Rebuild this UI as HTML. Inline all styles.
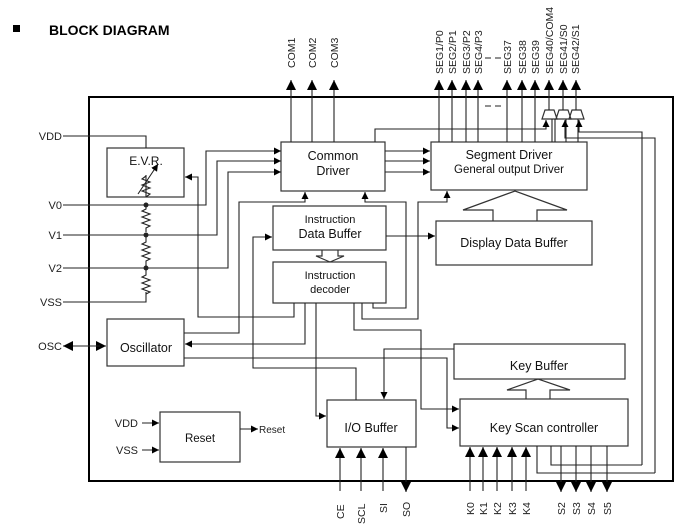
<!DOCTYPE html>
<html><head><meta charset="utf-8"><style>
html,body{margin:0;padding:0;background:#fff;}
svg{display:block;font-family:"Liberation Sans",Arial,sans-serif;}
</style></head><body>
<svg width="694" height="527" viewBox="0 0 694 527" xmlns="http://www.w3.org/2000/svg">
<defs>
<marker id="a" viewBox="0 0 10 10" refX="10" refY="5" markerWidth="7" markerHeight="7" markerUnits="userSpaceOnUse" orient="auto"><path d="M0,0L10,5L0,10z" fill="#000"/></marker>
<marker id="b" viewBox="0 0 10 10" refX="10" refY="5" markerWidth="10" markerHeight="10" markerUnits="userSpaceOnUse" orient="auto"><path d="M0,0L10,5L0,10z" fill="#000"/></marker>
</defs>
<rect x="13" y="25" width="7" height="7" fill="#000"/>
<text x="49" y="35" font-size="14" font-weight="bold">BLOCK DIAGRAM</text>

<g fill="none" stroke="#333" stroke-width="1.2">
<rect x="89" y="97" width="584" height="384" stroke="#000" stroke-width="2"/>
<rect x="107" y="148" width="77" height="49"/>
<rect x="281" y="142" width="104" height="49"/>
<rect x="431" y="142" width="156" height="48"/>
<rect x="273" y="206" width="113" height="44"/>
<rect x="273" y="262" width="113" height="41"/>
<rect x="436" y="221" width="156" height="44"/>
<rect x="107" y="319" width="77" height="47"/>
<rect x="454" y="344" width="171" height="35"/>
<rect x="460" y="399" width="168" height="47"/>
<rect x="327" y="400" width="89" height="47"/>
<rect x="160" y="412" width="80" height="50"/>
<path d="M322,250V256H316L330,262L344,256H338V250"/>
<path d="M493,221V210H463L515,191L567,210H537V221"/>
<path d="M526,399V390H507L538,379L570,390H550V399"/>
<path d="M545,110H554L557,119H542Z"/>
<path d="M559,110H568L571,119H556Z"/>
<path d="M572,110H581L584,119H569Z"/>
</g>

<g fill="none" stroke="#222" stroke-width="1.1">
<path d="M63,136H146V148"/>
<path d="M63,205H146M63,235H146M63,268H146M63,302H146V292"/>
<path d="M146,197V175"/>
<path d="M146,176l-4,3l8,3l-8,3l8,3l-8,3l8,3l-4,3"/>
<path d="M138,194L158,164" marker-end="url(#a)"/>
<path d="M146,205v4l-4,2l8,3l-8,3l8,3l-8,3l8,3l-4,2v4"/>
<path d="M146,235v7l-4,2l8,3l-8,3l8,3l-8,3l8,3l-4,2v7"/>
<path d="M146,268v7l-4,2l8,3l-8,3l8,3l-8,3l8,3l-4,2"/>
<path d="M146,205H206V151H281" marker-end="url(#a)"/>
<path d="M146,235H217V161H281" marker-end="url(#a)"/>
<path d="M146,268H228V172H281" marker-end="url(#a)"/>
<path d="M291,142V80" marker-end="url(#b)"/>
<path d="M312,142V80" marker-end="url(#b)"/>
<path d="M334,142V80" marker-end="url(#b)"/>
<path d="M385,151H430" marker-end="url(#a)"/>
<path d="M385,161H430" marker-end="url(#a)"/>
<path d="M385,172H430" marker-end="url(#a)"/>
<path d="M439,142V80" marker-end="url(#b)"/>
<path d="M452,142V80" marker-end="url(#b)"/>
<path d="M466,142V80" marker-end="url(#b)"/>
<path d="M478,142V80" marker-end="url(#b)"/>
<path d="M507,142V80" marker-end="url(#b)"/>
<path d="M522,142V80" marker-end="url(#b)"/>
<path d="M535,142V80" marker-end="url(#b)"/>
<path d="M549,110V80" marker-end="url(#b)"/>
<path d="M563,110V80" marker-end="url(#b)"/>
<path d="M576,110V80" marker-end="url(#b)"/>
<path d="M552,119V142M555,119V142M566,119V142M578,119V142"/>
<path d="M485,106H491M495,106H501"/>
<path d="M485,58H491M495,58H501"/>
<path d="M375,142V129H546V120" marker-end="url(#a)"/>
<path d="M655,473V138H565V120" marker-end="url(#a)"/>
<path d="M642,465V132H579V120" marker-end="url(#a)"/>
<path d="M537,446V473H655M551,446V465H642"/>
<path d="M294,303V317H198V177H185" marker-end="url(#a)"/>
<path d="M184,333H239V202H305V192" marker-end="url(#a)"/>
<path d="M305,303V344H185" marker-end="url(#a)"/>
<path d="M184,358H447V428H459" marker-end="url(#a)"/>
<path d="M70,346H106" marker-end="url(#b)"/>
<path d="M100,346H63" marker-end="url(#b)"/>
<path d="M316,303V416H326" marker-end="url(#a)"/>
<path d="M356,400V368H253V237H272" marker-end="url(#a)"/>
<path d="M373,303V308H406V202H365V192" marker-end="url(#a)"/>
<path d="M362,303V319H418V202H447V191" marker-end="url(#a)"/>
<path d="M354,303V330H421V409H459" marker-end="url(#a)"/>
<path d="M386,236H435" marker-end="url(#a)"/>
<path d="M454,349H384V399" marker-end="url(#a)"/>
<path d="M340,491V448" marker-end="url(#b)"/>
<path d="M361,491V448" marker-end="url(#b)"/>
<path d="M383,491V448" marker-end="url(#b)"/>
<path d="M406,447V492" marker-end="url(#b)"/>
<path d="M470,491V447" marker-end="url(#b)"/>
<path d="M483,491V447" marker-end="url(#b)"/>
<path d="M497,491V447" marker-end="url(#b)"/>
<path d="M512,491V447" marker-end="url(#b)"/>
<path d="M526,491V447" marker-end="url(#b)"/>
<path d="M561,446V492" marker-end="url(#b)"/>
<path d="M576,446V492" marker-end="url(#b)"/>
<path d="M591,446V492" marker-end="url(#b)"/>
<path d="M607,446V492" marker-end="url(#b)"/>
<path d="M142,423H159" marker-end="url(#a)"/>
<path d="M142,450H159" marker-end="url(#a)"/>
<path d="M240,429H258" marker-end="url(#a)"/>
</g>
<g fill="#222">
<circle cx="146" cy="205" r="2.5"/><circle cx="146" cy="235" r="2.5"/><circle cx="146" cy="268" r="2.5"/>
</g>

<g font-size="11" fill="#222">
<text x="62" y="140" text-anchor="end">VDD</text>
<text x="62" y="209" text-anchor="end">V0</text>
<text x="62" y="239" text-anchor="end">V1</text>
<text x="62" y="272" text-anchor="end">V2</text>
<text x="62" y="306" text-anchor="end">VSS</text>
<text x="62" y="350" text-anchor="end">OSC</text>
<text x="138" y="427" text-anchor="end">VDD</text>
<text x="138" y="454" text-anchor="end">VSS</text>
<text x="259" y="433" font-size="10">Reset</text>
</g>
<g font-size="12.5" fill="#111" text-anchor="middle">
<text x="146" y="165" font-size="12">E.V.R.</text>
<text x="333" y="160">Common</text>
<text x="333" y="175">Driver</text>
<text x="509" y="159">Segment Driver</text>
<text x="509" y="173" font-size="11.5">General output Driver</text>
<text x="330" y="223" font-size="11">Instruction</text>
<text x="330" y="238">Data Buffer</text>
<text x="330" y="279" font-size="11">Instruction</text>
<text x="330" y="293" font-size="11">decoder</text>
<text x="514" y="247">Display Data Buffer</text>
<text x="146" y="352">Oscillator</text>
<text x="539" y="370">Key Buffer</text>
<text x="544" y="432">Key Scan controller</text>
<text x="371" y="432">I/O Buffer</text>
<text x="200" y="442" font-size="11.5">Reset</text>
</g>
<g font-size="10.5" fill="#222">
<text transform="translate(295,68) rotate(-90)">COM1</text>
<text transform="translate(316,68) rotate(-90)">COM2</text>
<text transform="translate(338,68) rotate(-90)">COM3</text>
<text transform="translate(443,74) rotate(-90)">SEG1/P0</text>
<text transform="translate(456,74) rotate(-90)">SEG2/P1</text>
<text transform="translate(470,74) rotate(-90)">SEG3/P2</text>
<text transform="translate(482,74) rotate(-90)">SEG4/P3</text>
<text transform="translate(511,74) rotate(-90)">SEG37</text>
<text transform="translate(526,74) rotate(-90)">SEG38</text>
<text transform="translate(539,74) rotate(-90)">SEG39</text>
<text transform="translate(553,74) rotate(-90)">SEG40/COM4</text>
<text transform="translate(567,74) rotate(-90)">SEG41/S0</text>
<text transform="translate(579,74) rotate(-90)">SEG42/S1</text>
<text transform="translate(344,519) rotate(-90)">CE</text>
<text transform="translate(365,524) rotate(-90)">SCL</text>
<text transform="translate(387,513) rotate(-90)">SI</text>
<text transform="translate(410,517) rotate(-90)">SO</text>
<text transform="translate(474,515) rotate(-90)">K0</text>
<text transform="translate(487,515) rotate(-90)">K1</text>
<text transform="translate(501,515) rotate(-90)">K2</text>
<text transform="translate(516,515) rotate(-90)">K3</text>
<text transform="translate(530,515) rotate(-90)">K4</text>
<text transform="translate(565,515) rotate(-90)">S2</text>
<text transform="translate(580,515) rotate(-90)">S3</text>
<text transform="translate(595,515) rotate(-90)">S4</text>
<text transform="translate(611,515) rotate(-90)">S5</text>
</g>
</svg>
</body></html>
